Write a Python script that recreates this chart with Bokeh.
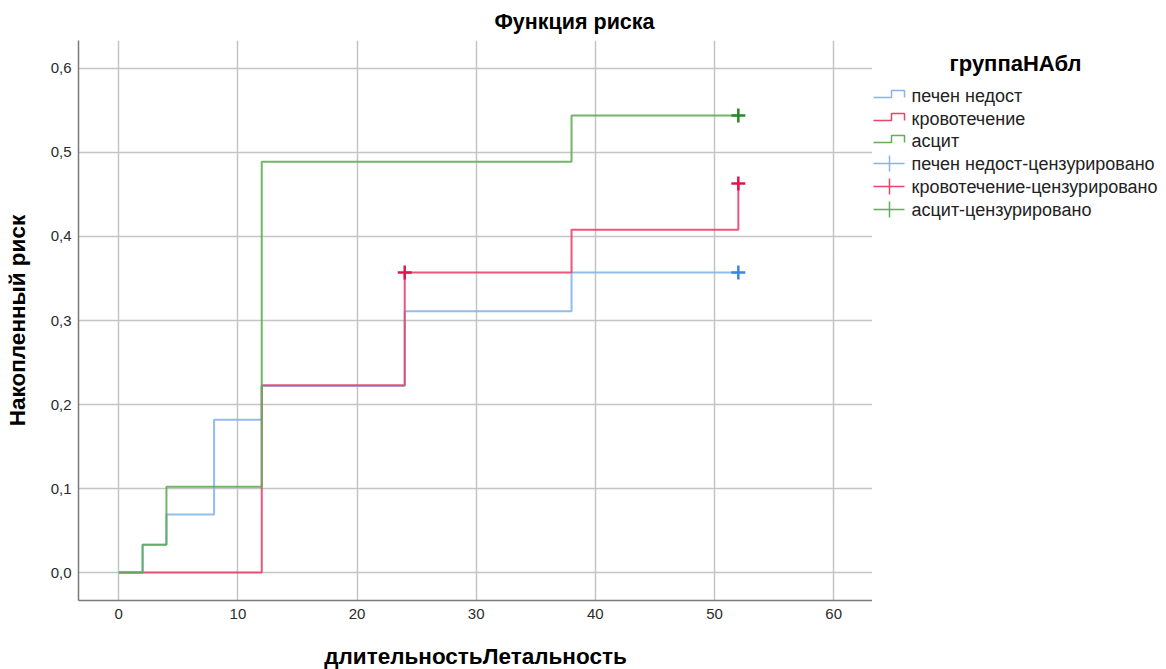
from bokeh.plotting import figure
from bokeh.models import Range1d, FixedTicker
from bokeh.layouts import row
from bokeh.embed import file_html
from bokeh.resources import INLINE
from bokeh.core.properties import value

# ---- data ----
groups = ["печен недост", "кровотечение", "асцит"]
censored_labels = ["печен недост-цензурировано", "кровотечение-цензурировано", "асцит-цензурировано"]

liver_t = [0, 2, 4, 8, 12, 24, 38, 52]
liver_h = [0.0, 0.033, 0.069, 0.182, 0.222, 0.311, 0.357, 0.357]
bleed_t = [0, 12, 24, 38, 52]
bleed_h = [0.0, 0.223, 0.357, 0.408, 0.463]
ascit_t = [0, 2, 4, 12, 38, 52]
ascit_h = [0.0, 0.033, 0.102, 0.489, 0.544, 0.544]

liver_cens_t = [52]
liver_cens_h = [0.357]
bleed_cens_t = [24, 52]
bleed_cens_h = [0.357, 0.463]
ascit_cens_t = [52]
ascit_cens_h = [0.544]

x_ticks = [0, 10, 20, 30, 40, 50, 60]
y_ticks = [0.0, 0.1, 0.2, 0.3, 0.4, 0.5, 0.6]
y_tick_labels = ["0,0", "0,1", "0,2", "0,3", "0,4", "0,5", "0,6"]

title_text = "Функция риска"
x_label = "длительностьЛетальность"
y_label = "Накопленный риск"
legend_title = "группаНАбл"

line_colors = ["#86b4ee", "#e8456b", "#62ad57"]
cens_colors = ["#3f84e5", "#e0164a", "#238b23"]

FONT = "Liberation Sans"

FL, FT, FW, FH = 78, 40, 794, 560

p = figure(frame_width=FW, frame_height=FH, output_backend="svg", toolbar_location=None,
           x_range=Range1d(-3.38, 63.26), y_range=Range1d(-0.0333, 0.6333),
           min_border_left=FL, min_border_right=0, min_border_top=FT, min_border_bottom=60,
           title=title_text)
p.outline_line_color = None
p.background_fill_color = "white"
p.border_fill_color = "white"

p.title.text_font = FONT
p.title.text_font_size = "21.5px"
p.title.text_font_style = "bold"
p.title.text_color = "#000000"
p.title.align = "left"
p.title.offset = 416
p.title.standoff = 13

for ax in (p.xaxis[0], p.yaxis[0]):
    ax.axis_line_color = "#7a7a7a"
    ax.axis_line_width = 1.5
    ax.major_tick_line_color = None
    ax.minor_tick_line_color = None
    ax.major_tick_out = 0
    ax.major_tick_in = 0
    ax.minor_tick_out = 0
    ax.minor_tick_in = 0
    ax.major_label_text_font = FONT
    ax.major_label_text_font_size = "15px"
    ax.major_label_text_color = "#2b2b2b"
    ax.axis_label_text_font = FONT
    ax.axis_label_text_font_style = "bold"
    ax.axis_label_text_font_size = "22.5px"
    ax.axis_label_text_color = "#000000"

p.xaxis.ticker = FixedTicker(ticks=x_ticks)
p.yaxis.ticker = FixedTicker(ticks=y_ticks)
p.yaxis.major_label_overrides = {t: l for t, l in zip(y_ticks, y_tick_labels)}
p.xaxis.major_label_standoff = 8
p.yaxis.major_label_standoff = 7
p.xaxis.axis_label = x_label
p.yaxis.axis_label = y_label
p.xaxis.axis_label_standoff = 22
p.yaxis.axis_label_standoff = 18

p.xgrid.grid_line_color = "#c4c4c4"
p.ygrid.grid_line_color = "#c4c4c4"
p.xgrid.grid_line_width = 1.5
p.ygrid.grid_line_width = 1.5

series = [(liver_t, liver_h), (bleed_t, bleed_h), (ascit_t, ascit_h)]
for (t, h), c in zip(series, line_colors):
    p.step(x=t, y=h, mode="after", line_color=c, line_width=2.0, line_alpha=0.9)

cens = [(liver_cens_t, liver_cens_h), (bleed_cens_t, bleed_cens_h), (ascit_cens_t, ascit_cens_h)]
for (t, h), c in zip(cens, cens_colors):
    p.scatter(x=t, y=h, marker="cross", size=14, line_color=c, line_width=2.5)

# ---- legend panel (its coordinates equal page pixels) ----
LX0, LX1 = FL + FW, 1162
q = figure(width=LX1 - LX0, height=p.frame_height, output_backend="svg", toolbar_location=None,
           x_range=Range1d(LX0, LX1), y_range=Range1d(FT + FH, FT),
           min_border_left=0, min_border_right=0, min_border_top=FT, min_border_bottom=60,
           frame_width=LX1 - LX0, frame_height=FH)
q.axis.visible = False
q.grid.visible = False
q.outline_line_color = None
q.background_fill_color = "white"
q.border_fill_color = "white"

item_y = [95, 118, 140, 163, 186, 209]
labels = groups + censored_labels
for i, c in enumerate(line_colors):
    Y = item_y[i]
    q.line(x=[873, 891, 891, 904, 904], y=[Y + 2, Y + 2, Y - 5, Y - 5, Y + 2],
           line_color=c, line_width=1.5)
for i, c in enumerate(line_colors):
    Y = item_y[3 + i]
    q.line(x=[873, 904], y=[Y, Y], line_color=c, line_width=1.5)
    q.line(x=[889, 889], y=[Y - 8, Y + 8], line_color=c, line_width=1.5)

q.text(x=[911] * 6, y=item_y, text=labels, text_font=value(FONT), text_font_size="18px",
       text_baseline="middle", text_align="left", text_color="#222222")
q.text(x=[1015], y=[63], text=[legend_title], text_font=value(FONT), text_font_size="22px",
       text_font_style="bold", text_baseline="middle", text_align="center", text_color="#000000")

layout = row(p, q, spacing=0)
open("out.html", "w").write(file_html(layout, INLINE))
